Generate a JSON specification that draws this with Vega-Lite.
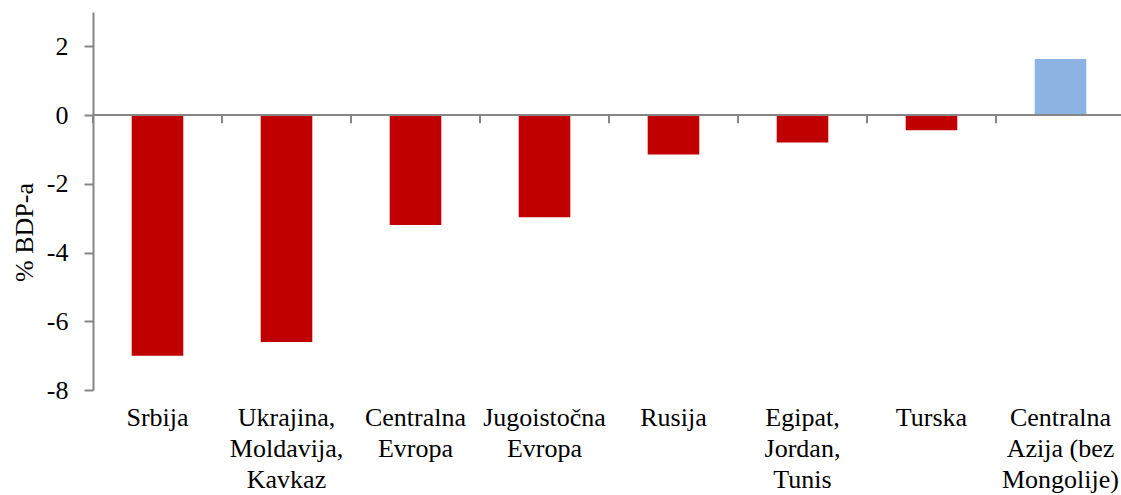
{
  "$schema": "https://vega.github.io/schema/vega-lite/v6.json",
  "autosize": {"type": "none"},
  "width": 1032,
  "height": 378,
  "padding": {"left": 93, "top": 12, "right": 0, "bottom": 105},
  "background": "white",
  "config": {
    "view": {"stroke": null},
    "axis": {
      "labelFont": "Liberation Serif, DejaVu Serif",
      "titleFont": "Liberation Serif, DejaVu Serif",
      "labelColor": "black",
      "titleColor": "black",
      "titleFontWeight": "normal",
      "domainColor": "#868686",
      "tickColor": "#868686",
      "domainWidth": 2,
      "tickWidth": 2,
      "grid": false
    }
  },
  "data": {
    "values": [
      {"region": "Srbija", "value": -7.0},
      {"region": "Ukrajina,|Moldavija,|Kavkaz", "value": -6.6},
      {"region": "Centralna|Evropa", "value": -3.2},
      {"region": "Jugoistočna|Evropa", "value": -2.97},
      {"region": "Rusija", "value": -1.15},
      {"region": "Egipat,|Jordan,|Tunis", "value": -0.8},
      {"region": "Turska", "value": -0.44},
      {"region": "Centralna|Azija (bez|Mongolije)", "value": 1.63}
    ]
  },
  "layer": [
    {
      "mark": {"type": "bar"},
      "encoding": {
        "x": {"field": "region", "type": "nominal", "sort": null,
              "scale": {"paddingInner": 0.6, "paddingOuter": 0.3},
              "axis": {"orient": "bottom", "title": null, "domain": false, "ticks": false,
                       "labelFontSize": 26,
                       "labelAngle": 0, "labelPadding": 14, "labelLineHeight": 31,
                       "labelBaseline": "top",
                       "labelExpr": "split(datum.value, '|')"}},
        "y": {"field": "value", "type": "quantitative",
              "scale": {"domain": [-8, 3], "nice": false, "zero": false},
              "axis": {"values": [-8, -6, -4, -2, 0, 2], "title": "% BDP-a",
                       "labelFontSize": 26, "titleFontSize": 26,
                       "labelExpr": "'' + datum.value",
                       "tickSize": 9, "labelPadding": 16,
                       "titleAngle": -90, "titleX": -61, "titleY": 220,
                       "titleAlign": "center", "titleBaseline": "alphabetic"}},
        "color": {
          "condition": {"test": "datum.value >= 0", "value": "#8DB3E2"},
          "value": "#C00000"
        }
      }
    },
    {
      "mark": {"type": "rule", "color": "#868686", "strokeWidth": 2},
      "encoding": {"y": {"datum": 0}}
    },
    {
      "mark": {"type": "rule", "color": "#868686", "strokeWidth": 2},
      "encoding": {
        "x": {"field": "region", "type": "nominal", "sort": null, "bandPosition": -0.75},
        "y": {"datum": 0},
        "y2": {"datum": -0.24}
      }
    }
  ]
}
